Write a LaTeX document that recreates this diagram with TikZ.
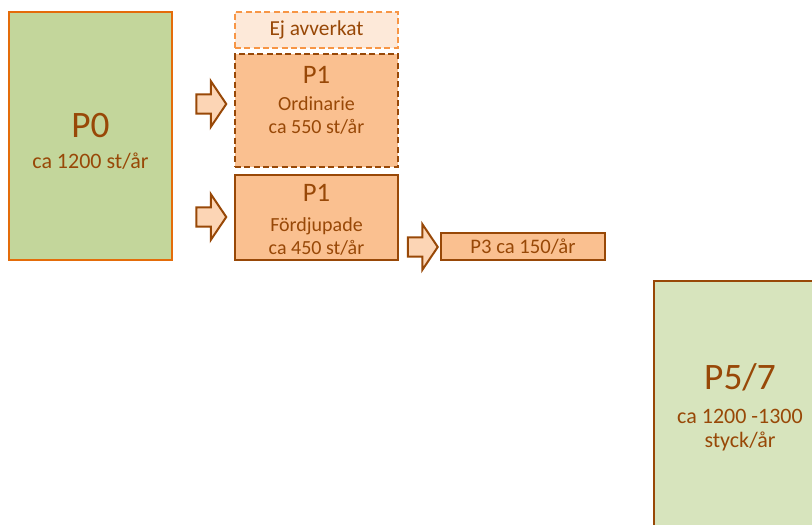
\documentclass[tikz,border=0pt]{standalone}
\usepackage{fontspec}
\setmainfont{Carlito}
\usetikzlibrary{shapes.arrows}
\definecolor{brun}{HTML}{984807}
\definecolor{orange}{HTML}{E46C0A}
\definecolor{ljusorange}{HTML}{F79646}
\definecolor{gronmork}{HTML}{C3D69B}
\definecolor{gronljus}{HTML}{D7E4BD}
\definecolor{persika}{HTML}{FAC090}
\definecolor{blek}{HTML}{FDE9D9}
\definecolor{pilfarg}{HTML}{FCD5B5}
\newcommand{\Stor}{\fontsize{28}{18}\selectfont}
\newcommand{\Liten}{\fontsize{16.5}{18}\selectfont}
\newcommand{\Mellan}{\fontsize{20}{17.25}\selectfont}
\newcommand{\Brod}{\fontsize{15}{17.25}\selectfont}
\tikzset{
  ruta/.style={draw=brun, line width=1.5pt, text=brun, align=center, inner sep=0pt},
  pil/.style={single arrow, draw=brun, fill=pilfarg, line width=1.5pt, minimum height=22.5pt,
    single arrow head extend=10pt, single arrow tip angle=112, inner xsep=0pt, inner ysep=6.5pt}
}

\begin{document}
\begin{tikzpicture}[x=0.75pt,y=-0.75pt]
        \clip (0,0) rectangle (812,524);
        \node[ruta, draw=orange, fill=gronmork, minimum width=122.25pt, minimum height=186pt, font=\Liten, text height=48.75pt] (Pnoll) at (90.5,136) {\Stor P0\\[5.25pt]ca 1200 st/år};
        \node[ruta, draw=ljusorange, fill=blek, dash pattern=on 4.5pt off 2.5pt, minimum width=122.25pt, minimum height=27pt, font=\fontsize{16}{18}\selectfont] (Ejav) at (316.5,30) {Ej avverkat};
        \node[ruta, fill=persika, dash pattern=on 4.5pt off 2.5pt, minimum width=122.25pt, minimum height=84.75pt, font=\Brod, text depth=16.5pt] (Ordi) at (316.5,110.5) {\Mellan P1\\[3pt]Ordinarie\\ca 550 st/år};
        \node[ruta, fill=persika, minimum width=122.25pt, minimum height=63.75pt, font=\Brod, text height=55.5pt] (Ford) at (316.5,217.5) {\Mellan P1\\[5.25pt]Fördjupade\\ca 450 st/år};
        \node[ruta, fill=persika, minimum width=123pt, minimum height=20.25pt, font=\fontsize{15.5}{17}\selectfont, text depth=0pt] (Ptre) at (523,246.5) {P3 ca 150/år};
        \node[ruta, fill=gronljus, minimum width=129pt, minimum height=194.25pt, font=\Liten, text depth=7pt] (Pfem) at (740,410.5) {\Stor P5/7\\[7.5pt]ca 1200 -1300\\styck/år};
        \node[pil] (PilA) at (208,104) {};
        \node[pil] (PilB) at (208,217) {};
        \node[pil] (PilC) at (419.5,247) {};
      \end{tikzpicture}
\end{document}
